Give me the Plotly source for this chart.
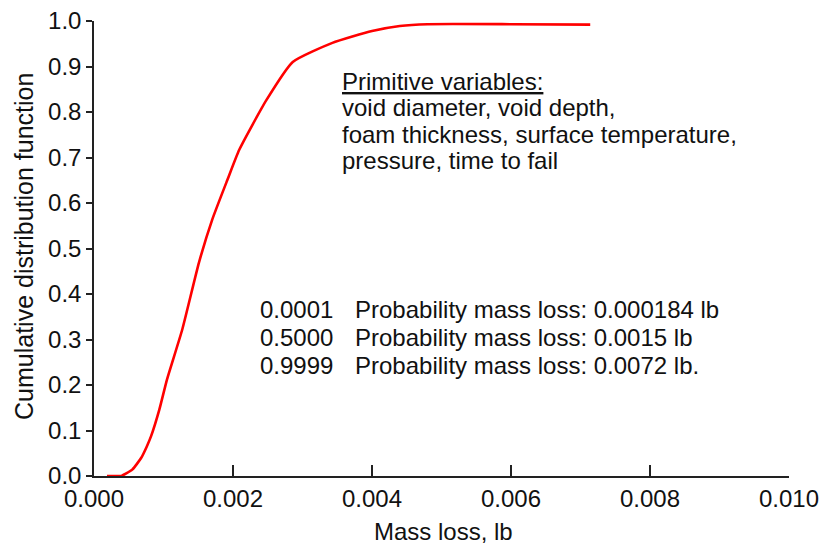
import plotly.graph_objects as go

# Data
mass_loss = [0.000187, 0.00030, 0.00039, 0.00055, 0.00068, 0.00076, 0.00082, 0.00094,
             0.00105, 0.00127, 0.00151, 0.00170, 0.00192, 0.00209, 0.00248, 0.00286,
             0.00343, 0.00400, 0.00440, 0.00480, 0.00600, 0.00714]
cdf = [0.0, 0.0, 0.0, 0.014, 0.04, 0.065, 0.087, 0.146,
       0.212, 0.322, 0.469, 0.563, 0.651, 0.717, 0.826, 0.91,
       0.952, 0.978, 0.989, 0.993, 0.993, 0.992]

x_ticks = [0.000, 0.002, 0.004, 0.006, 0.008, 0.010]
x_ticklabels = ["0.000", "0.002", "0.004", "0.006", "0.008", "0.010"]
y_ticks = [0.0, 0.1, 0.2, 0.3, 0.4, 0.5, 0.6, 0.7, 0.8, 0.9, 1.0]
y_ticklabels = [f"{v:.1f}" for v in y_ticks]

x_title = "Mass loss, lb"
y_title = "Cumulative distribution function"
primitive_lines = ["<u>Primitive variables:</u>",
                   "void diameter, void depth,",
                   "foam thickness, surface temperature,",
                   "pressure, time to fail"]
prob_levels = ["0.0001", "0.5000", "0.9999"]
prob_texts = ["Probability mass loss: 0.000184 lb",
              "Probability mass loss: 0.0015 lb",
              "Probability mass loss: 0.0072 lb."]

FONT = "Arial, Liberation Sans, sans-serif"
FS = 24
W, H = 823, 545
ML, MR, MT, MB = 94, 34, 21, 69
PW, PH = W - ML - MR, H - MT - MB

fig = go.Figure()
fig.add_trace(go.Scatter(x=mass_loss, y=cdf, mode="lines",
                         line=dict(color="#ff0000", width=2.6, shape="spline", smoothing=0.5),
                         showlegend=False, hoverinfo="skip"))

def px_to_x(px):
    return (px - ML) / PW * 0.010

def py_to_y(py):
    return (H - MB - py) / PH

ann = []
for i, t in enumerate(primitive_lines):
    ann.append(dict(x=px_to_x(340), y=py_to_y(81 + 26.5 * i), text=t, xref="x", yref="y",
                    xanchor="left", yanchor="middle", showarrow=False,
                    font=dict(family=FONT, size=FS, color="#111")))
for i, (lv, t) in enumerate(zip(prob_levels, prob_texts)):
    ann.append(dict(x=px_to_x(258), y=py_to_y(309 + 28 * i), text=lv, xref="x", yref="y",
                    xanchor="left", yanchor="middle", showarrow=False,
                    font=dict(family=FONT, size=FS, color="#111")))
    ann.append(dict(x=px_to_x(353), y=py_to_y(309 + 28 * i), text=t, xref="x", yref="y",
                    xanchor="left", yanchor="middle", showarrow=False,
                    font=dict(family=FONT, size=FS, color="#111")))
# axis titles
ann.append(dict(x=(443 - ML) / PW, y=(H - MB - 531) / PH, xref="paper", yref="paper",
                text=x_title, showarrow=False, xanchor="center", yanchor="middle",
                font=dict(family=FONT, size=FS, color="#111")))
ann.append(dict(x=(24 - ML) / PW, y=(H - MB - 247) / PH, xref="paper", yref="paper",
                text=y_title, showarrow=False, xanchor="center", yanchor="middle", textangle=-90,
                font=dict(family=FONT, size=25, color="#111")))

fig.update_layout(
    width=W, height=H,
    margin=dict(l=ML, r=MR, t=MT, b=MB, pad=0),
    paper_bgcolor="white", plot_bgcolor="white",
    font=dict(family=FONT, size=FS, color="#111"),
    annotations=ann,
    xaxis=dict(range=[0, 0.010], tickvals=x_ticks, ticktext=x_ticklabels, automargin=False,
               showgrid=False, zeroline=False, showline=True, linecolor="#222", linewidth=1.5,
               ticks="inside", ticklen=11, tickwidth=1.5, tickcolor="#222",
               tickfont=dict(family=FONT, size=FS, color="#111")),
    yaxis=dict(range=[0, 1.0], tickvals=y_ticks, ticktext=y_ticklabels, automargin=False,
               showgrid=False, zeroline=False, showline=True, linecolor="#222", linewidth=1.5,
               ticks="outside", ticklen=6, tickwidth=1.5, tickcolor="#222",
               tickfont=dict(family=FONT, size=FS, color="#111")),
)

fig.write_html("out.html")
